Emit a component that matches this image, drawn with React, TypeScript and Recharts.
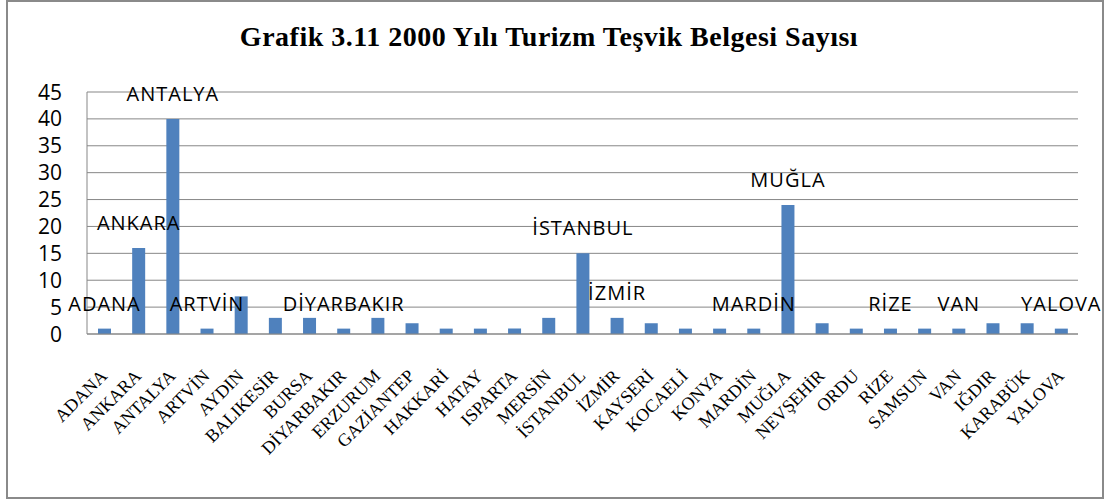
import { Bar, BarChart, CartesianGrid, LabelList, XAxis, YAxis } from 'recharts';

const cities = [
  'ADANA', 'ANKARA', 'ANTALYA', 'ARTVİN', 'AYDIN', 'BALIKESİR', 'BURSA', 'DİYARBAKIR',
  'ERZURUM', 'GAZİANTEP', 'HAKKARİ', 'HATAY', 'ISPARTA', 'MERSİN', 'İSTANBUL', 'İZMİR',
  'KAYSERİ', 'KOCAELİ', 'KONYA', 'MARDİN', 'MUĞLA', 'NEVŞEHİR', 'ORDU', 'RİZE',
  'SAMSUN', 'VAN', 'IĞDIR', 'KARABÜK', 'YALOVA',
];
const counts = [
  1, 16, 40, 1, 7, 3, 3, 1,
  3, 2, 1, 1, 1, 3, 15, 3,
  2, 1, 1, 1, 24, 2, 1, 1,
  1, 1, 2, 2, 1,
];
// bars that carry a category-name data label in the original
const labeledCities = [
  'ADANA', 'ANKARA', 'ANTALYA', 'ARTVİN', 'DİYARBAKIR', 'İSTANBUL', 'İZMİR',
  'MARDİN', 'MUĞLA', 'RİZE', 'VAN', 'YALOVA',
];
const yTicks = [0, 5, 10, 15, 20, 25, 30, 35, 40, 45];
const title = 'Grafik 3.11 2000 Yılı Turizm Teşvik Belgesi Sayısı';

const data = cities.map((city, i) => ({ city, count: counts[i] }));

const GRID = '#878787';
const BLUE = '#4F81BD';

const CityTick = (props: any) => {
  const { x, payload } = props;
  const ax = x + 4;
  const ay = 377;
  return (
    <text
      x={ax}
      y={ay}
      textAnchor="end"
      transform={`rotate(-45 ${ax} ${ay})`}
      fontFamily="'Liberation Serif', serif"
      fontSize={18}
      fill="#000"
    >
      {payload.value}
    </text>
  );
};

const CountTick = (props: any) => {
  const { y, payload } = props;
  return (
    <text x={62} y={y} dy="0.36em" textAnchor="end" fontFamily="'Open Sans', sans-serif" fontSize={21} fill="#000">
      {payload.value}
    </text>
  );
};

const CityLabel = (props: any) => {
  const { x, y, width, value } = props;
  if (!labeledCities.includes(value)) return null;
  return (
    <text
      x={x + width / 2}
      y={y - 18}
      textAnchor="middle"
      fontFamily="'Open Sans', sans-serif"
      fontSize={20}
      letterSpacing={1}
      fill="#000"
    >
      {value}
    </text>
  );
};

export default function App() {
  return (
    <div style={{ position: 'absolute', left: 0, top: 0, width: 1107, height: 499, background: '#fff' }}>
      <div
        style={{
          position: 'absolute',
          left: 6,
          top: 0,
          width: 1098,
          height: 499,
          border: '2px solid #8a8a8a',
          boxSizing: 'border-box',
        }}
      />
      <div
        style={{
          position: 'absolute',
          left: 0,
          top: 23,
          width: 1098,
          textAlign: 'center',
          fontFamily: "'Liberation Serif', serif",
          fontWeight: 'bold',
          fontSize: 28,
          lineHeight: '28px',
          letterSpacing: 0.5,
          color: '#000',
        }}
      >
        {title}
      </div>
      <div style={{ position: 'absolute', left: 0, top: 0 }}>
        <BarChart width={1107} height={499} data={data} margin={{ top: 92, right: 29, left: 0, bottom: 25 }}>
          <CartesianGrid vertical={false} stroke={GRID} />
          <XAxis
            dataKey="city"
            interval={0}
            height={140}
            tickLine={false}
            axisLine={{ stroke: GRID }}
            tick={<CityTick />}
          />
          <YAxis
            width={87}
            domain={[0, 45]}
            ticks={yTicks}
            tickLine={false}
            axisLine={{ stroke: GRID }}
            tick={<CountTick />}
          />
          <Bar dataKey="count" fill={BLUE} barSize={13} isAnimationActive={false}>
            <LabelList dataKey="city" content={<CityLabel />} />
          </Bar>
        </BarChart>
      </div>
    </div>
  );
}
